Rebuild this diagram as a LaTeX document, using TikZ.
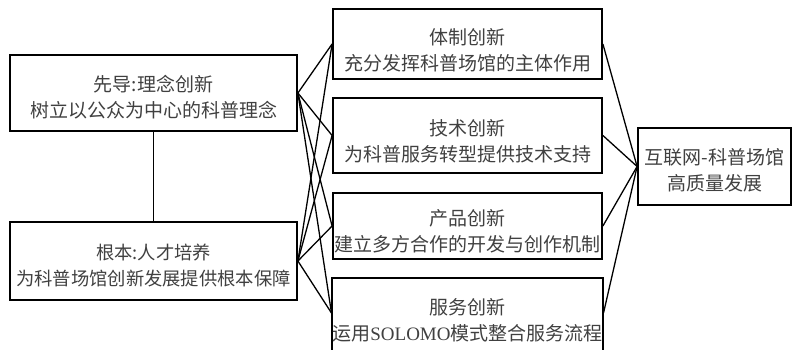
\documentclass[tikz,border=0pt]{standalone}
\usepackage{fontspec}
\setmainfont{Noto Sans CJK SC}
\newfontfamily\latinserif{Liberation Serif}
\newcommand{\dn}[1]{\rule{0pt}{#1pt}}
\begin{document}
\begin{tikzpicture}[x=1pt,y=-1pt,
  box/.style={draw=black,line width=1.8pt,rectangle,inner sep=0pt,align=center,
    text=black!75,font=\fontsize{19}{26}\selectfont},
  link/.style={line width=1.3pt,black}]
\useasboundingbox (0,0) rectangle (792,350);
\node[box,minimum width=287pt,minimum height=76pt] (l1) at (153.5,93) {\dn{24}先导:理念创新\\树立以公众为中心的科普理念};
\node[box,minimum width=287pt,minimum height=78pt,font=\fontsize{18.3}{26}\selectfont] (l2) at (153.5,261) {\dn{24}根本:人才培养\\为科普场馆创新发展提供根本保障};
\node[box,minimum width=269pt,minimum height=70pt] (m1) at (467.5,44) {\dn{28}体制创新\\充分发挥科普场馆的主体作用};
\node[box,minimum width=269pt,minimum height=75pt] (m2) at (467.5,135.5) {\dn{28}技术创新\\为科普服务转型提供技术支持};
\node[box,minimum width=269pt,minimum height=66pt] (m3) at (467.5,226) {\dn{26}产品创新\\建立多方合作的开发与创作机制};
\node[box,minimum width=269pt,minimum height=80pt] (m4) at (467.5,318) {\dn{20}服务创新\\运用{\latinserif SOLOMO}模式整合服务流程};
\node[box,minimum width=153pt,minimum height=77pt] (r) at (714.5,166.5) {\dn{24}互联网-科普场馆\\高质量发展};
\draw[link] (l1.south) -- (l2.north);
\foreach \m in {m1,m2,m3}{
  \draw[link] (l1.east) -- (\m.west);
  \draw[link] (l2.east) -- (\m.west);
  \draw[link] (\m.east) -- (r.west);
}
\draw[link] (l1.east) -- ([yshift=5pt]m4.west);
\draw[link] (l2.east) -- ([yshift=5pt]m4.west);
\draw[link] ([yshift=5pt]m4.east) -- (r.west);
\end{tikzpicture}
\end{document}
